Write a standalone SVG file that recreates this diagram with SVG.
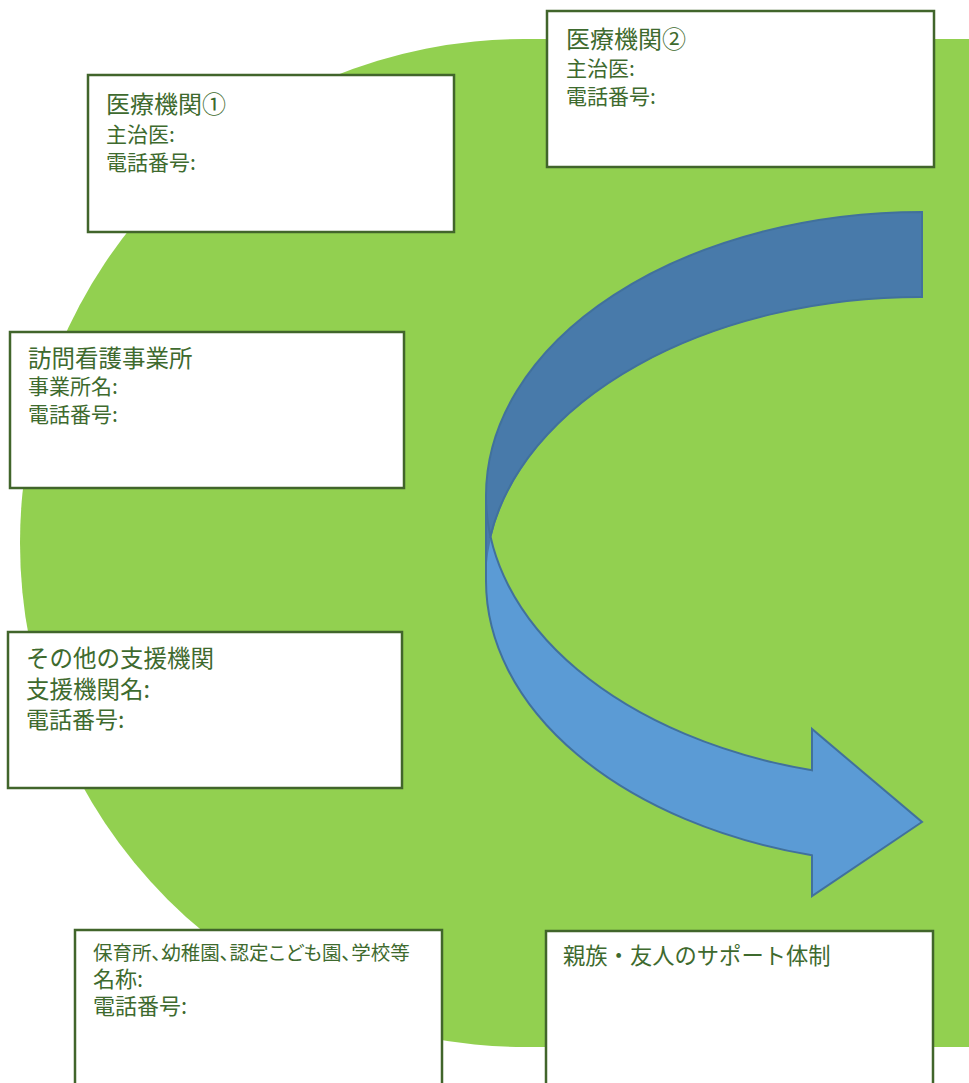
<svg xmlns="http://www.w3.org/2000/svg" width="969" height="1083" viewBox="0 0 969 1083">
<style>
.box{fill:#ffffff;stroke:#41652B;stroke-width:2.5}
.t{font-family:"Noto Sans CJK JP","Noto Sans",sans-serif;fill:#3E6A2E}
.p{font-feature-settings:"palt"}
.arrowLight{fill:#5B9BD5;stroke:none}
.arrowDark{fill:#487AAA;stroke:none}
.arrowLine{fill:none;stroke:#41719C;stroke-width:2;stroke-linejoin:miter}
</style>
<rect width="969" height="1083" fill="#ffffff"/>
<path id="bg" d="M524 39 L980 39 L980 1047 L524 1047 A504 504 0 0 1 524 39 Z" fill="#92D050"/>
<g id="connectors">
<path class="arrowLight" d="M486 495.75 A436 283.75 0 0 0 812 770.3 L812 729 L922 822 L812 896 L812 855.3 A436 283.75 0 0 1 486 580.75 Z"/>
<path class="arrowDark" d="M922 212 A436 283.75 0 0 0 486 495.75 L486 580.75 A436 283.75 0 0 1 922 297 Z"/>
<path class="arrowLine" d="M486 495.75 A436 283.75 0 0 0 812 770.3 L812 729 L922 822 L812 896 L812 855.3 A436 283.75 0 0 1 486 580.75 L486 495.75 A436 283.75 0 0 1 922 212 L922 297 A436 283.75 0 0 0 490 538"/>
</g>
<g id="iryo1">
<rect class="box" x="88" y="75" width="366" height="157"/>
<text class="t" x="106" y="113" font-size="24">医療機関①</text>
<text class="t" x="106" y="142" font-size="21">主治医:</text>
<text class="t" x="106" y="170" font-size="21">電話番号:</text>
</g>
<g id="iryo2">
<rect class="box" x="547" y="11" width="387" height="156"/>
<text class="t" x="566" y="48" font-size="24">医療機関②</text>
<text class="t" x="566" y="76" font-size="21">主治医:</text>
<text class="t" x="566" y="104" font-size="21">電話番号:</text>
</g>
<g id="houmon">
<rect class="box" x="10" y="332" width="394" height="156"/>
<text class="t" x="28" y="367" font-size="23.5">訪問看護事業所</text>
<text class="t" x="28" y="394" font-size="21">事業所名:</text>
<text class="t" x="28" y="422" font-size="21">電話番号:</text>
</g>
<g id="sonota">
<rect class="box" x="8" y="632" width="394" height="156"/>
<text class="t" x="26" y="667" font-size="23.5">その他の支援機関</text>
<text class="t" x="26" y="698" font-size="23.5">支援機関名:</text>
<text class="t" x="26" y="728" font-size="23">電話番号:</text>
</g>
<g id="hoiku">
<rect class="box" x="75" y="930" width="367" height="170"/>
<text class="t p" x="93" y="960" font-size="19.5">保育所、幼稚園、認定こども園、学校等</text>
<text class="t" x="93" y="987" font-size="22">名称:</text>
<text class="t" x="93" y="1014" font-size="22">電話番号:</text>
</g>
<g id="shinzoku">
<rect class="box" x="546" y="931" width="387" height="170"/>
<text class="t" x="563" y="964" font-size="22.3">親族・友人のサポート体制</text>
</g>
</svg>
